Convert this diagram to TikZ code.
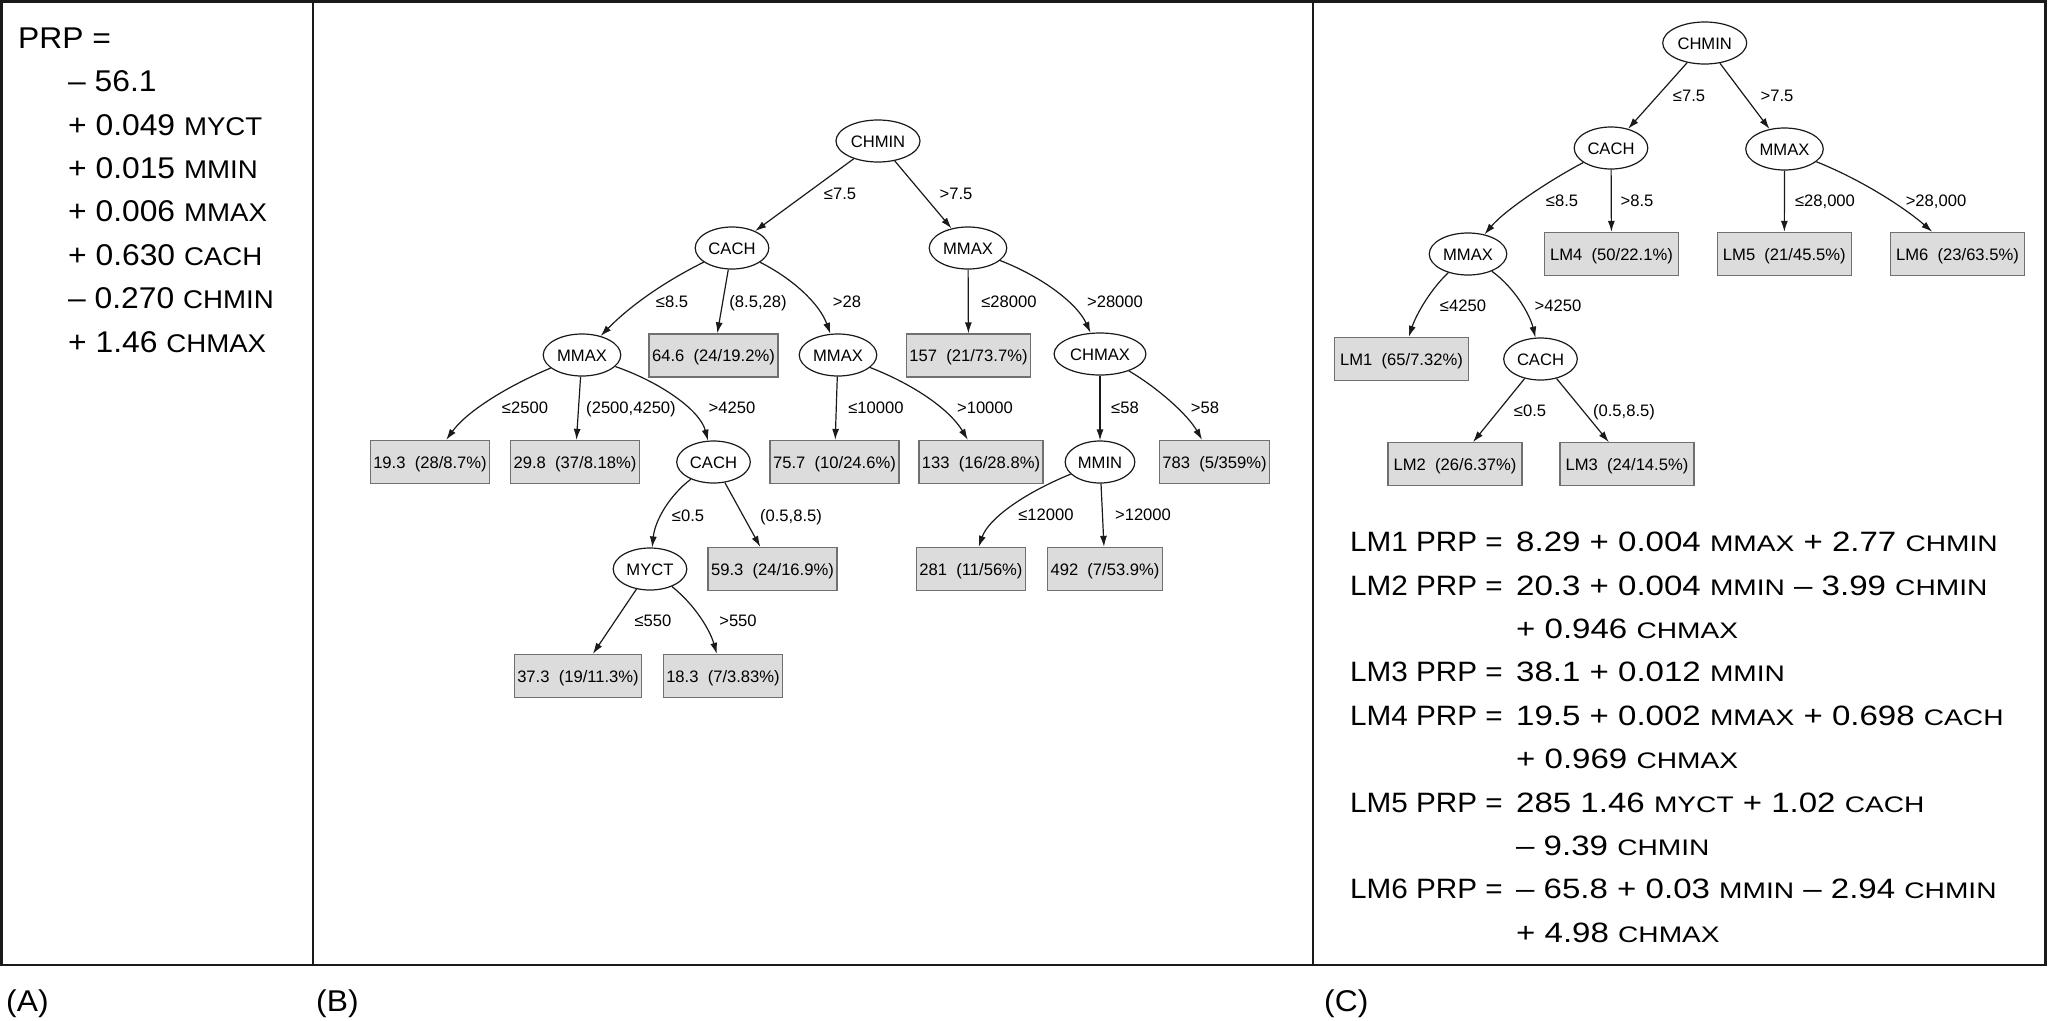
\documentclass[tikz,border=0pt]{standalone}
\usepackage{fontspec}
\setmainfont{Liberation Sans}
\usetikzlibrary{arrows.meta,shapes.geometric}
\newfontfamily\treefamily{Liberation Sans}
\newfontfamily\eqfamily[FakeStretch=1.06]{Liberation Sans}
\newfontfamily\rhsfamily[FakeStretch=1.18]{Liberation Sans}
\newfontfamily\varAfamily[FakeStretch=1.08]{Liberation Sans}
\newfontfamily\varCfamily[FakeStretch=1.25]{Liberation Sans}
\newcommand{\treefont}{\treefamily\fontsize{16.6pt}{20pt}\selectfont}
\newcommand{\eqAfont}{\eqfamily\fontsize{30pt}{36pt}\selectfont}
\newcommand{\eqCfont}{\eqfamily\fontsize{28pt}{34pt}\selectfont}
\newcommand{\rhsfont}{\rhsfamily\fontsize{28pt}{34pt}\selectfont}
\newcommand{\va}[1]{{\varAfamily\fontsize{25.6pt}{30pt}\selectfont #1}}
\newcommand{\vc}[1]{{\varCfamily\fontsize{22.5pt}{27pt}\selectfont #1}}
\definecolor{leaffill}{HTML}{DCDCDC}
\definecolor{leafline}{HTML}{707070}
\definecolor{ink}{HTML}{1A1A1A}
\tikzset{
  attnode/.style={ellipse,draw=ink,line width=1.2pt,inner xsep=2.5pt,inner ysep=0pt,
    minimum height=42pt,text height=12pt,text depth=0pt,font=\treefont},
  leafbox/.style={rectangle,draw=leafline,fill=leaffill,line width=1.3pt,inner xsep=3pt,
    inner ysep=0pt,minimum height=43pt,text height=12pt,text depth=0pt,font=\treefont},
  lmbox/.style={leafbox,minimum width=134pt},
  lbl/.style={inner sep=0pt,text height=12pt,text depth=0pt,font=\treefont},
  branch/.style={draw=ink,line width=1.2pt,-{Latex[length=11pt,width=7pt]}},
  eqline/.style={anchor=base west,inner sep=0pt,font=\eqAfont},
  lmlabel/.style={anchor=base west,inner sep=0pt,font=\eqCfont},
  rhs/.style={anchor=base west,inner sep=0pt,font=\rhsfont}
}
\begin{document}
\begin{tikzpicture}[x=1pt,y=-1pt]
\useasboundingbox (0,0) rectangle (2048,1020);
\fill[white] (0,0) rectangle (2048,1020);
% frames
\draw[ink,line width=2.5pt] (1.5,1.5) rectangle (2045.5,965);
\draw[ink,line width=1.4pt] (313,1.5) -- (313,965);
\draw[ink,line width=2.2pt] (1313,1.5) -- (1313,965);
\node[eqline] (capA) at (6,1011.7) {(A)};
\node[eqline] (capB) at (316,1011.7) {(B)};
\node[eqline] (capC) at (1324,1011.7) {(C)};
% (A) linear regression
\node[eqline] (prp) at (18,48.3) {PRP =};
\node[eqline] (t0) at (68,91.7) {– 56.1};
\node[eqline] (t1) at (68,135.1) {+ 0.049 \va{MYCT}};
\node[eqline] (t2) at (68,178.5) {+ 0.015 \va{MMIN}};
\node[eqline] (t3) at (68,221.9) {+ 0.006 \va{MMAX}};
\node[eqline] (t4) at (68,265.3) {+ 0.630 \va{CACH}};
\node[eqline] (t5) at (68,308.7) {– 0.270 \va{CHMIN}};
\node[eqline] (t6) at (68,352.1) {+ 1.46 \va{CHMAX}};
% (B) regression tree
\node[attnode] (bchmin) at (878,141) {CHMIN};
\node[attnode] (bcach) at (732,248) {CACH};
\node[attnode] (bmmaxr) at (968,248) {MMAX};
\node[attnode] (bmmaxl) at (582,355) {MMAX};
\node[leafbox] (b646) at (713.5,355.5) {64.6~~(24/19.2\%)};
\node[attnode] (bmmaxm) at (838,355) {MMAX};
\node[leafbox] (b157) at (968.5,355.5) {157~~(21/73.7\%)};
\node[attnode] (bchmax) at (1100,354) {CHMAX};
\node[leafbox] (b193) at (430,462) {19.3~~(28/8.7\%)};
\node[leafbox] (b298) at (575,462) {29.8~~(37/8.18\%)};
\node[attnode] (bcachl) at (713.5,462) {CACH};
\node[leafbox] (b757) at (834.5,462) {75.7~~(10/24.6\%)};
\node[leafbox] (b133) at (981,462) {133~~(16/28.8\%)};
\node[attnode] (bmmin) at (1100,462) {MMIN};
\node[leafbox] (b783) at (1214.5,462) {783~~(5/359\%)};
\node[attnode] (bmyct) at (650,569) {MYCT};
\node[leafbox] (b593) at (772.5,569) {59.3~~(24/16.9\%)};
\node[leafbox] (b281) at (971,569) {281~~(11/56\%)};
\node[leafbox] (b492) at (1105,569) {492~~(7/53.9\%)};
\node[leafbox] (b373) at (578,676) {37.3~~(19/11.3\%)};
\node[leafbox] (b183) at (723,676) {18.3~~(7/3.83\%)};
\draw[branch] (bchmin) -- (bcach);
\draw[branch] (bchmin) -- (bmmaxr);
\draw[branch] (bcach) .. controls (660,284) and (628,308) .. (bmmaxl);
\draw[branch] (bcach) -- (b646);
\draw[branch] (bcach) .. controls (795,280) and (820,305) .. (bmmaxm);
\draw[branch] (bmmaxr) -- (b157);
\draw[branch] (bmmaxr) .. controls (1045,278) and (1078,305) .. (bchmax);
\draw[branch] (bmmaxl) .. controls (510,385) and (468,410) .. (b193);
\draw[branch] (bmmaxl) -- (b298);
\draw[branch] (bmmaxl) .. controls (660,382) and (700,410) .. (bcachl);
\draw[branch] (bmmaxm) -- (b757);
\draw[branch] (bmmaxm) .. controls (915,385) and (950,410) .. (b133);
\draw[branch] (bchmax) -- (bmmin);
\draw[branch] (bchmax) .. controls (1158,388) and (1188,415) .. (b783);
\draw[branch] (bcachl) .. controls (670,495) and (655,520) .. (bmyct);
\draw[branch] (bcachl) -- (b593);
\draw[branch] (bmmin) .. controls (1020,495) and (988,520) .. (b281);
\draw[branch] (bmmin) -- (b492);
\draw[branch] (bmyct) -- (b373);
\draw[branch] (bmyct) .. controls (695,605) and (710,630) .. (b183);
\node[lbl] (bl1) at (840,193) {≤7.5};
\node[lbl] (bl2) at (956,193) {>7.5};
\node[lbl] (bl3) at (672,301) {≤8.5};
\node[lbl] (bl4) at (758,301) {(8.5,28)};
\node[lbl] (bl5) at (847,301) {>28};
\node[lbl] (bl6) at (1009,301) {≤28000};
\node[lbl] (bl7) at (1115,301) {>28000};
\node[lbl] (bl8) at (525,407) {≤2500};
\node[lbl] (bl9) at (631,407) {(2500,4250)};
\node[lbl] (bl10) at (732,407) {>4250};
\node[lbl] (bl11) at (876,407) {≤10000};
\node[lbl] (bl12) at (985,407) {>10000};
\node[lbl] (bl13) at (1125,407) {≤58};
\node[lbl] (bl14) at (1205,407) {>58};
\node[lbl] (bl15) at (688,515) {≤0.5};
\node[lbl] (bl16) at (791,515) {(0.5,8.5)};
\node[lbl] (bl17) at (1046,514) {≤12000};
\node[lbl] (bl18) at (1143,514) {>12000};
\node[lbl] (bl19) at (653,620) {≤550};
\node[lbl] (bl20) at (738,620) {>550};
% (C) model tree
\node[attnode] (cchmin) at (1704.7,43) {CHMIN};
\node[attnode] (ccach) at (1611,148) {CACH};
\node[attnode] (cmmax) at (1784.5,149) {MMAX};
\node[attnode] (cmmaxl) at (1468,254) {MMAX};
\node[lmbox] (clm4) at (1611.5,254) {LM4~~(50/22.1\%)};
\node[lmbox] (clm5) at (1784.3,254) {LM5~~(21/45.5\%)};
\node[lmbox] (clm6) at (1957.5,254) {LM6~~(23/63.5\%)};
\node[lmbox] (clm1) at (1401.5,359) {LM1~~(65/7.32\%)};
\node[attnode] (ccachl) at (1540.5,359) {CACH};
\node[lmbox] (clm2) at (1455,464.3) {LM2~~(26/6.37\%)};
\node[lmbox] (clm3) at (1627,464.3) {LM3~~(24/14.5\%)};
\draw[branch] (cchmin) -- (ccach);
\draw[branch] (cchmin) -- (cmmax);
\draw[branch] (ccach) .. controls (1550,180) and (1505,210) .. (cmmaxl);
\draw[branch] (ccach) -- (clm4);
\draw[branch] (cmmax) -- (clm5);
\draw[branch] (cmmax) .. controls (1862,180) and (1905,208) .. (clm6);
\draw[branch] (cmmaxl) .. controls (1430,290) and (1416,315) .. (clm1);
\draw[branch] (cmmaxl) .. controls (1515,288) and (1530,315) .. (ccachl);
\draw[branch] (ccachl) -- (clm2);
\draw[branch] (ccachl) -- (clm3);
\node[lbl] (cl1) at (1689,95) {≤7.5};
\node[lbl] (cl2) at (1777,95) {>7.5};
\node[lbl] (cl3) at (1562,200) {≤8.5};
\node[lbl] (cl4) at (1637,200) {>8.5};
\node[lbl] (cl5) at (1825,200) {≤28,000};
\node[lbl] (cl6) at (1936,200) {>28,000};
\node[lbl] (cl7) at (1463,305) {≤4250};
\node[lbl] (cl8) at (1558,305) {>4250};
\node[lbl] (cl9) at (1530,410) {≤0.5};
\node[lbl] (cl10) at (1624,410) {(0.5,8.5)};
\node[lmlabel] (lm1) at (1350,551.7) {LM1 PRP =};
\node[rhs] (r1) at (1516,551.7) {8.29 + 0.004 \vc{MMAX} + 2.77 \vc{CHMIN}};
\node[lmlabel] (lm2) at (1350,595.1) {LM2 PRP =};
\node[rhs] (r2) at (1516,595.1) {20.3 + 0.004 \vc{MMIN} – 3.99 \vc{CHMIN}};
\node[rhs] (r2b) at (1516,638.5) {+ 0.946 \vc{CHMAX}};
\node[lmlabel] (lm3) at (1350,681.9) {LM3 PRP =};
\node[rhs] (r3) at (1516,681.9) {38.1 + 0.012 \vc{MMIN}};
\node[lmlabel] (lm4) at (1350,725.3) {LM4 PRP =};
\node[rhs] (r4) at (1516,725.3) {19.5 + 0.002 \vc{MMAX} + 0.698 \vc{CACH}};
\node[rhs] (r4b) at (1516,768.7) {+ 0.969 \vc{CHMAX}};
\node[lmlabel] (lm5) at (1350,812.1) {LM5 PRP =};
\node[rhs] (r5) at (1516,812.1) {285 1.46 \vc{MYCT} + 1.02 \vc{CACH}};
\node[rhs] (r5b) at (1516,855.5) {– 9.39 \vc{CHMIN}};
\node[lmlabel] (lm6) at (1350,898.9) {LM6 PRP =};
\node[rhs] (r6) at (1516,898.9) {– 65.8 + 0.03 \vc{MMIN} – 2.94 \vc{CHMIN}};
\node[rhs] (r6b) at (1516,942.3) {+ 4.98 \vc{CHMAX}};
\end{tikzpicture}
\end{document}
